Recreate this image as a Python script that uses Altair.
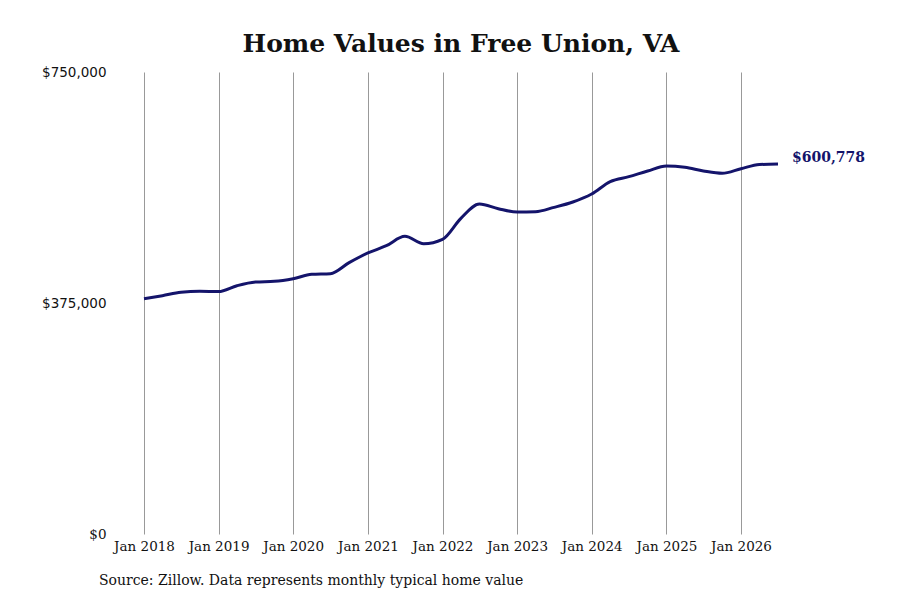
import altair as alt
import pandas as pd

# Quarterly typical home value
dates = [
    "2018-01-01", "2018-04-01", "2018-07-01", "2018-10-01",
    "2019-01-01", "2019-04-01", "2019-07-01", "2019-10-01",
    "2020-01-01", "2020-04-01", "2020-07-01", "2020-10-01",
    "2021-01-01", "2021-04-01", "2021-07-01", "2021-10-01",
    "2022-01-01", "2022-04-01", "2022-07-01", "2022-10-01",
    "2023-01-01", "2023-04-01", "2023-07-01", "2023-10-01",
    "2024-01-01", "2024-04-01", "2024-07-01", "2024-10-01",
    "2025-01-01", "2025-04-01", "2025-07-01", "2025-10-01",
    "2026-01-01", "2026-04-01", "2026-07-01",
]
values = [
    382000, 386900, 392400, 394000,
    393500, 403100, 409100, 410200,
    414500, 421600, 422600, 440500,
    456200, 468000, 483200, 471300,
    478400, 512500, 535700, 528100,
    522700, 523200, 530300, 539000,
    552000, 572000, 580100, 589300,
    597400, 595300, 589300, 585500,
    593000, 599800, 600778,
]
y_ticks = [0, 375000, 750000]
year_ticks = [f"{y}-01-01" for y in range(2018, 2027)]

df = pd.DataFrame({"date": pd.to_datetime(dates), "value": values})
last = df.tail(1).assign(label="$600,778")

W, H = 634, 462
navy = "#14146b"

base = alt.Chart(df).encode(
    x=alt.X(
        "date:T",
        scale=alt.Scale(domain=["2018-01-01", "2026-07-01"]),
        axis=alt.Axis(
            title=None, values=year_ticks, format="%b %Y", grid=True,
            gridColor="#999999", gridWidth=1, domain=False, ticks=False,
            labelFont="DejaVu Serif", labelFontSize=13.5, labelColor="#111111",
            labelPadding=5, labelFlush=False,
        ),
    ),
    y=alt.Y(
        "value:Q",
        scale=alt.Scale(domain=[0, 750000], nice=False),
        axis=alt.Axis(
            title=None, values=y_ticks, format="$,.0f", grid=False,
            domain=False, ticks=False, labelPadding=38,
            labelFont=alt.ExprRef("datum.value == 0 ? 'DejaVu Serif' : 'DejaVu Sans'"),
            labelFontSize=13.5, labelColor="#111111",
        ),
    ),
)

line = base.mark_line(color=navy, strokeWidth=3, interpolate="monotone")

end_label = alt.Chart(last).mark_text(
    align="left", baseline="middle", dx=14, dy=-6,
    font="DejaVu Serif", fontSize=14, fontWeight="bold", color=navy,
).encode(x="date:T", y="value:Q", text="label:N")

source = alt.Chart(pd.DataFrame({"t": ["Source: Zillow. Data represents monthly typical home value"]})).mark_text(
    align="left", baseline="middle", font="DejaVu Serif", fontSize=14, color="#111111",
).encode(x=alt.value(-45), y=alt.value(H + 47), text="t:N")

chart = alt.layer(line, end_label, source).properties(
    width=W,
    height=H,
    autosize=alt.AutoSizeParams(type="none"),
    padding={"left": 136, "top": 64, "right": 110, "bottom": 56},
    title=alt.TitleParams(
        "Home Values in Free Union, VA",
        font="DejaVu Serif", fontSize=25, fontWeight="bold", color="#111111",
        anchor="middle", offset=8,
    ),
).configure(background="white").configure_view(strokeWidth=0)

chart.save("out.html", embed_options={"renderer": "svg", "actions": False})
